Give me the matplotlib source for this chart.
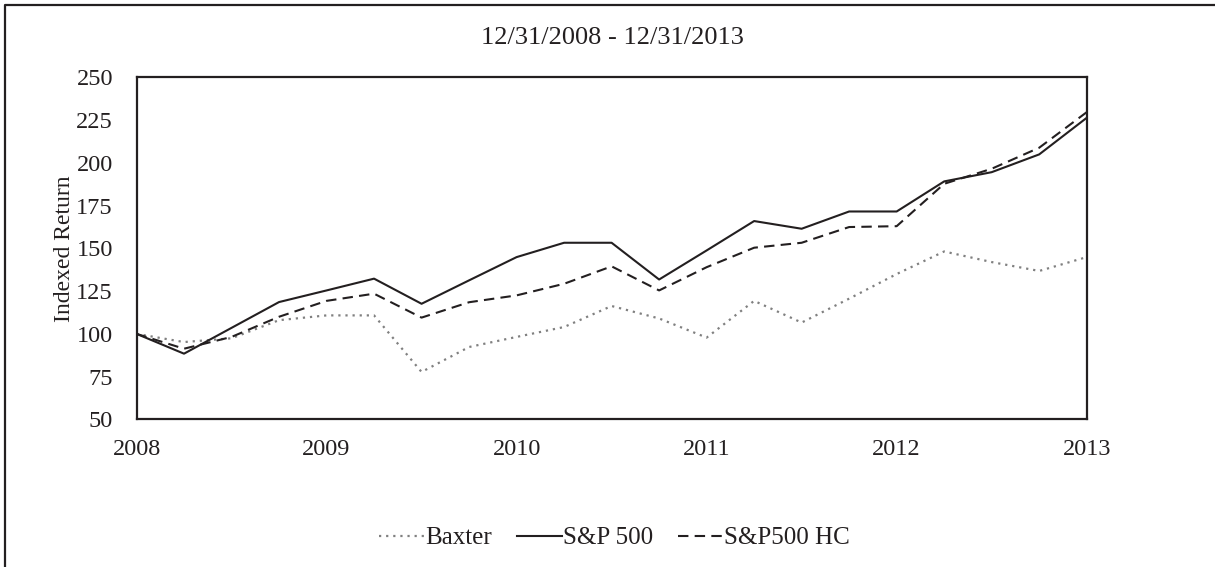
import matplotlib.pyplot as plt
from matplotlib.lines import Line2D

# quarterly points, 12/31/2008 .. 12/31/2013
quarters = [2008 + i / 4 for i in range(21)]
baxter = [100, 95.2, 97.4, 108, 110.8, 110.8, 77.7, 92.3, 98.2, 104, 116.3,
          109, 97.8, 119.3, 106.6, 120.6, 135, 148.2, 142, 136.8, 144.9]
sp500 = [100, 88.4, 103.5, 118.6, 125.4, 132.3, 117.6, 131.3, 144.9, 153.3, 153.3,
         131.8, 148.8, 166, 161.5, 171.6, 171.6, 189.2, 194.6, 205, 226.4]
sp500_hc = [100, 91.3, 98.2, 110, 119.3, 123.5, 109.5, 118.5, 122.5, 129.3, 139.5,
            125.4, 139, 150.4, 153.3, 162.5, 163, 187.8, 196.6, 208.9, 229.7]
year_ticks = [2008, 2009, 2010, 2011, 2012, 2013]
y_ticks = [50, 75, 100, 125, 150, 175, 200, 225, 250]

plt.rcParams["font.family"] = ["Liberation Serif", "DejaVu Serif"]
ink = "#231f20"
W, H = 1215, 567

fig = plt.figure(figsize=(W / 100, H / 100), dpi=100)
ax = fig.add_axes([136.5 / W, 1 - 419.3 / H, (1086.7 - 136.5) / W, (419.3 - 77.5) / H])

ax.plot(quarters, baxter, color="#808080", lw=1.6, ls=(0, (1, 2.2)), label="Baxter")
ax.plot(quarters, sp500, color=ink, lw=1.5, ls="-", label="S&P 500")
ax.plot(quarters, sp500_hc, color=ink, lw=1.5, ls=(0, (5, 3)), label="S&P500 HC")

ax.set_xlim(2008, 2013)
ax.set_ylim(50, 250)
ax.set_xticks(year_ticks)
ax.set_xticklabels([str(y) for y in year_ticks])
ax.set_yticks(y_ticks)
ax.tick_params(length=0, labelsize=17.5, colors=ink)
ax.tick_params(axis="y", pad=17)
ax.tick_params(axis="x", pad=14)
for s in ax.spines.values():
    s.set_linewidth(1.6)
    s.set_color(ink)
ax.set_ylabel("Indexed Return", fontsize=17, color=ink, labelpad=1)

fig.text(612 / W, 1 - 38 / H, "12/31/2008 - 12/31/2013", ha="center", va="center",
         fontsize=19, color=ink)

fig.legend(loc="center", bbox_to_anchor=(614.5 / W, 1 - 538 / H), ncol=3, frameon=False,
           fontsize=18, handlelength=1.8, handletextpad=0.05, columnspacing=1.0,
           labelcolor=ink)

# frame only along top and left edge of the picture
fig.add_artist(Line2D([4.5 / W, 4.5 / W, 1], [0, 1 - 5 / H, 1 - 5 / H],
                      transform=fig.transFigure, lw=1.6, color=ink))

fig.savefig("out.png", dpi=100)
